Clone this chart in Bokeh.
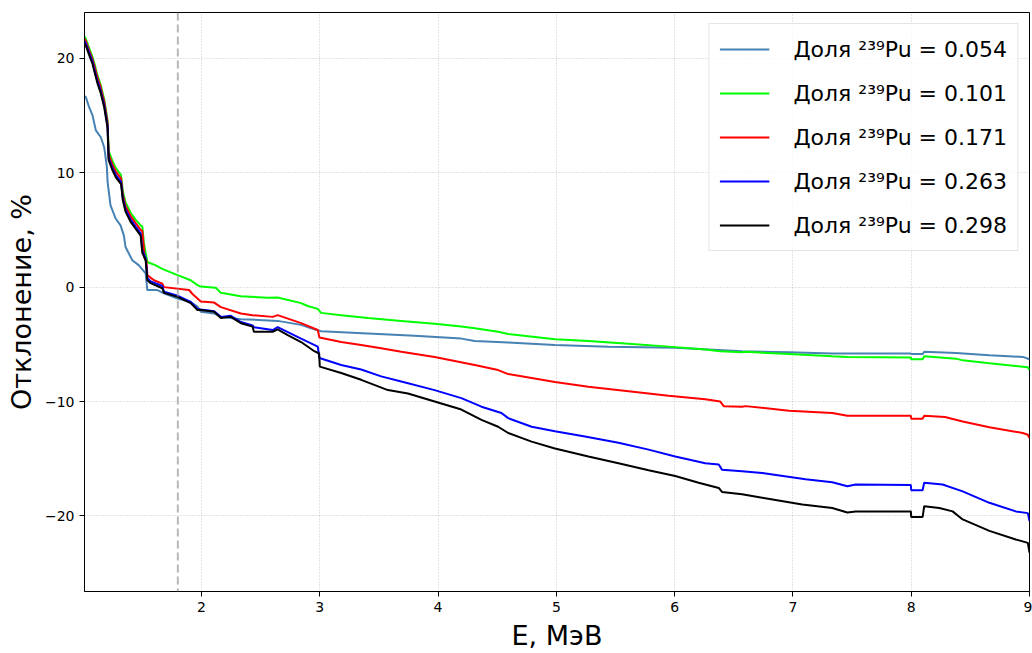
from bokeh.plotting import figure
from bokeh.models import Range1d, FixedTicker, Span, Legend, LegendItem
from bokeh.embed import file_html
from bokeh.resources import INLINE

# ---- data ----
labels = ["Доля ²³⁹Pu = 0.054", "Доля ²³⁹Pu = 0.101", "Доля ²³⁹Pu = 0.171",
          "Доля ²³⁹Pu = 0.263", "Доля ²³⁹Pu = 0.298"]
colors = ["#4682B4", "#00FF00", "#FF0000", "#0000FF", "#000000"]

x_054 = [1.011, 1.022, 1.051, 1.079, 1.107, 1.149, 1.178, 1.200, 1.206, 1.231, 1.274, 1.316, 1.344, 1.358,
         1.415, 1.471, 1.528, 1.542, 1.627, 1.683, 1.797, 1.909, 1.966, 1.994, 2.107, 2.164, 2.333, 2.644,
         2.842, 2.926, 3.011, 3.407, 3.802, 4.197, 4.310, 4.593, 4.988, 5.441, 6.005, 6.570, 6.966, 7.333,
         7.997, 8.0, 8.096, 8.11, 8.379, 8.661, 8.943, 9.0]
y_054 = [16.7, 16.6, 15.7, 15.0, 13.7, 13.1, 12.2, 10.5, 9.2, 7.15, 6.0, 5.4, 4.5, 3.5,
         2.35, 1.9, 1.2, -0.26, -0.26, -0.55, -1.0, -1.3, -1.7, -2.15, -2.3, -2.6, -2.8, -2.95,
         -3.3, -3.6, -3.85, -4.05, -4.25, -4.5, -4.7, -4.85, -5.05, -5.2, -5.3, -5.6, -5.7, -5.8,
         -5.8, -5.85, -5.85, -5.65, -5.75, -5.95, -6.1, -6.3]

x_101 = [1.011, 1.022, 1.05, 1.079, 1.093, 1.121, 1.147, 1.178, 1.206, 1.215, 1.248, 1.276, 1.32, 1.335,
         1.358, 1.401, 1.443, 1.486, 1.50, 1.514, 1.542, 1.613, 1.669, 1.797, 1.909, 1.966, 1.994, 2.121,
         2.164, 2.333, 2.559, 2.644, 2.842, 2.898, 2.983, 3.011, 3.181, 3.407, 3.689, 3.971, 4.197, 4.310,
         4.508, 4.593, 4.988, 5.271, 5.610, 5.949, 6.259, 6.386, 6.570, 6.599, 6.966, 7.333, 7.460, 7.997,
         8.0, 8.096, 8.11, 8.379, 8.435, 8.661, 8.943, 8.986, 9.0]
y_101 = [21.9, 21.7, 20.9, 20.1, 19.6, 18.5, 17.7, 16.4, 14.6, 11.9, 11.0, 10.4, 9.8, 8.4,
         7.4, 6.5, 5.9, 5.4, 5.3, 3.8, 2.2, 1.9, 1.6, 1.05, 0.6, 0.17, 0.05, -0.06,
         -0.5, -0.8, -0.93, -0.9, -1.4, -1.65, -1.9, -2.25, -2.45, -2.7, -2.95, -3.2, -3.45, -3.6,
         -3.9, -4.1, -4.55, -4.7, -4.95, -5.2, -5.45, -5.6, -5.7, -5.65, -5.85, -6.05, -6.1, -6.15,
         -6.3, -6.3, -6.05, -6.25, -6.4, -6.65, -6.95, -7.0, -7.25]

x_171 = [1.011, 1.022, 1.05, 1.079, 1.093, 1.121, 1.147, 1.178, 1.206, 1.215, 1.248, 1.276, 1.32, 1.335,
         1.358, 1.401, 1.443, 1.486, 1.50, 1.52, 1.535, 1.542, 1.598, 1.669, 1.683, 1.895, 1.924, 1.994,
         2.107, 2.164, 2.333, 2.432, 2.602, 2.644, 2.842, 2.983, 2.997, 3.181, 3.350, 3.519, 3.689, 3.971,
         4.310, 4.508, 4.593, 4.791, 4.988, 5.271, 5.610, 5.949, 6.259, 6.386, 6.415, 6.570, 6.599, 6.966,
         7.333, 7.460, 7.997, 8.0, 8.096, 8.11, 8.285, 8.435, 8.661, 8.943, 8.986, 9.0]
y_171 = [21.7, 21.5, 20.7, 19.9, 19.4, 18.3, 17.5, 16.2, 14.4, 11.6, 10.7, 10.1, 9.5, 8.1,
         7.1, 6.2, 5.6, 5.0, 4.9, 2.5, 2.3, 1.05, 0.6, 0.3, 0.0, -0.25, -0.6, -1.25,
         -1.35, -1.75, -2.3, -2.45, -2.6, -2.45, -3.15, -3.75, -4.4, -4.8, -5.05, -5.35, -5.65, -6.1,
         -6.8, -7.25, -7.6, -7.95, -8.3, -8.7, -9.1, -9.5, -9.8, -10.0, -10.4, -10.45, -10.4, -10.8,
         -11.0, -11.25, -11.25, -11.5, -11.5, -11.25, -11.35, -11.75, -12.25, -12.75, -12.9, -13.2]

x_263 = [1.011, 1.022, 1.05, 1.079, 1.093, 1.121, 1.147, 1.178, 1.206, 1.215, 1.248, 1.276, 1.32, 1.335,
         1.358, 1.401, 1.443, 1.486, 1.50, 1.528, 1.542, 1.570, 1.669, 1.683, 1.797, 1.909, 1.966, 1.994,
         2.107, 2.164, 2.248, 2.333, 2.432, 2.443, 2.602, 2.644, 2.842, 2.983, 2.997, 3.181, 3.350, 3.519,
         3.689, 3.971, 4.197, 4.367, 4.536, 4.593, 4.791, 4.988, 5.242, 5.525, 5.780, 6.005, 6.259, 6.373,
         6.40, 6.570, 6.740, 7.107, 7.333, 7.460, 7.531, 7.997, 8.0, 8.096, 8.11, 8.265, 8.435, 8.661,
         8.884, 8.986, 9.0]
y_263 = [21.5, 21.3, 20.5, 19.7, 19.1, 18.0, 17.2, 15.9, 14.1, 11.3, 10.4, 9.8, 9.2, 7.8,
         6.8, 5.9, 5.3, 4.7, 3.2, 2.55, 0.8, 0.5, 0.1, -0.4, -0.75, -1.3, -1.9, -1.95,
         -2.1, -2.6, -2.5, -3.05, -3.35, -3.5, -3.75, -3.5, -4.5, -5.2, -6.2, -6.8, -7.2, -7.8,
         -8.25, -9.0, -9.7, -10.45, -11.0, -11.45, -12.2, -12.6, -13.05, -13.6, -14.2, -14.8, -15.4, -15.5,
         -15.95, -16.1, -16.25, -16.8, -17.05, -17.4, -17.25, -17.3, -17.75, -17.75, -17.1, -17.25, -17.85, -18.85,
         -19.6, -19.75, -20.45]

x_298 = [1.011, 1.022, 1.05, 1.079, 1.093, 1.121, 1.147, 1.178, 1.206, 1.215, 1.248, 1.276, 1.32, 1.335,
         1.358, 1.401, 1.443, 1.486, 1.50, 1.528, 1.542, 1.570, 1.669, 1.683, 1.797, 1.909, 1.966, 1.994,
         2.107, 2.164, 2.248, 2.333, 2.432, 2.443, 2.602, 2.644, 2.729, 2.842, 2.954, 2.995, 3.0, 3.181,
         3.350, 3.576, 3.746, 3.971, 4.197, 4.367, 4.508, 4.593, 4.791, 4.988, 5.271, 5.525, 5.780, 6.005,
         6.203, 6.373, 6.40, 6.570, 6.740, 7.079, 7.333, 7.460, 7.531, 7.997, 8.0, 8.096, 8.11, 8.237,
         8.350, 8.435, 8.661, 8.884, 8.986, 9.0]
y_298 = [21.3, 21.1, 20.3, 19.5, 18.9, 17.8, 17.0, 15.7, 13.9, 11.1, 10.2, 9.6, 9.0, 7.6,
         6.6, 5.7, 5.1, 4.5, 3.0, 2.35, 0.6, 0.35, -0.1, -0.5, -0.85, -1.4, -2.0, -2.0,
         -2.15, -2.7, -2.6, -3.15, -3.45, -3.9, -3.9, -3.7, -4.2, -4.8, -5.6, -5.8, -6.95, -7.5,
         -8.1, -9.0, -9.3, -10.0, -10.7, -11.6, -12.2, -12.75, -13.5, -14.1, -14.8, -15.4, -16.0, -16.5,
         -17.1, -17.55, -17.9, -18.1, -18.4, -19.0, -19.3, -19.7, -19.6, -19.6, -20.1, -20.1, -19.15, -19.3,
         -19.6, -20.3, -21.3, -22.05, -22.35, -23.2]

marker_energy = 1.8
x_ticks = [2, 3, 4, 5, 6, 7, 8, 9]
y_ticks = [-20, -10, 0, 10, 20]

series = [(x_054, y_054), (x_101, y_101), (x_171, y_171), (x_263, y_263), (x_298, y_298)]

FONT = "DejaVu Sans"

p = figure(width=1032, height=653, x_range=Range1d(1.011, 9.0), y_range=Range1d(-26.6, 24.0),
           output_backend="svg", toolbar_location=None,
           min_border_left=84, min_border_right=3, min_border_top=12, min_border_bottom=60)
p.background_fill_color = "white"
p.border_fill_color = "white"
p.outline_line_color = "black"
p.outline_line_alpha = 1.0
p.outline_line_width = 1

# grid
for g in (p.xgrid, p.ygrid):
    g.grid_line_color = "#b0b0b0"
    g.grid_line_alpha = 0.7
    g.grid_line_dash = "1 2"
    g.grid_line_width = 1
p.xaxis.ticker = FixedTicker(ticks=x_ticks)
p.yaxis.ticker = FixedTicker(ticks=y_ticks)
p.yaxis.major_label_overrides = {-20: "\u221220", -10: "\u221210"}

for ax in (p.xaxis, p.yaxis):
    ax.axis_line_color = "black"
    ax.major_tick_line_color = "black"
    ax.major_tick_out = 5
    ax.major_tick_in = 0
    ax.minor_tick_line_color = None
    ax.major_label_text_font = FONT
    ax.major_label_text_font_size = "14px"
    ax.major_label_text_color = "black"
    ax.axis_label_text_font = FONT
    ax.axis_label_text_font_size = "27px"
    ax.axis_label_text_font_style = "normal"
    ax.axis_label_text_color = "black"
p.xaxis.axis_label = "E, МэВ"
p.yaxis.axis_label = "Отклонение, %"
p.xaxis.axis_label_standoff = 5
p.yaxis.axis_label_standoff = 5

p.add_layout(Span(location=marker_energy, dimension="height", line_color="#999999", line_alpha=0.7,
                  line_dash="8 4", line_width=2))

items = []
for (xs, ys), c, lab in zip(series, colors, labels):
    r = p.line(xs, ys, line_color=c, line_width=2)
    items.append(LegendItem(label=lab, renderers=[r]))

legend = Legend(items=items, location="top_right")
legend.label_text_font = FONT
legend.label_text_font_size = "22px"
legend.label_text_color = "black"
legend.glyph_width = 50
legend.glyph_height = 30
legend.label_standoff = 24
legend.spacing = 14
legend.padding = 10
legend.margin = 11
legend.border_line_color = "#cccccc"
legend.border_line_width = 1
legend.background_fill_alpha = 0.8
p.add_layout(legend)

open("out.html", "w").write(file_html(p, INLINE))
